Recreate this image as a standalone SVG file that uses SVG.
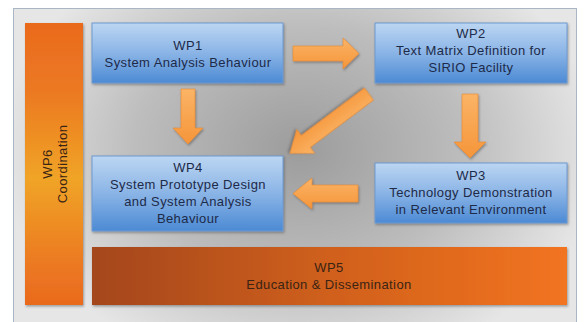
<svg xmlns="http://www.w3.org/2000/svg" width="587" height="322" viewBox="0 0 587 322">
  <defs>
    <radialGradient id="panelBg" cx="300" cy="150" r="300" gradientUnits="userSpaceOnUse" gradientTransform="translate(300 150) scale(1 0.75) translate(-300 -150)">
      <stop offset="0" stop-color="#9c9c9c"/>
      <stop offset="0.55" stop-color="#bdbdbd"/>
      <stop offset="1" stop-color="#e6e6e6"/>
    </radialGradient>
    <linearGradient id="blueFill" x1="0" y1="0" x2="0" y2="1">
      <stop offset="0" stop-color="#bcd6f2"/>
      <stop offset="0.5" stop-color="#8ab4e6"/>
      <stop offset="1" stop-color="#4c8ad4"/>
    </linearGradient>
    <linearGradient id="coordFill" x1="0" y1="0" x2="0" y2="1">
      <stop offset="0" stop-color="#ea6a1e"/>
      <stop offset="0.25" stop-color="#ec7a22"/>
      <stop offset="0.55" stop-color="#f0a426"/>
      <stop offset="0.85" stop-color="#ec7a22"/>
      <stop offset="1" stop-color="#ea6a1e"/>
    </linearGradient>
    <linearGradient id="eduFill" x1="0" y1="0" x2="1" y2="0">
      <stop offset="0" stop-color="#a4461e"/>
      <stop offset="0.5" stop-color="#d0601e"/>
      <stop offset="1" stop-color="#f27420"/>
    </linearGradient>
    <linearGradient id="arrowFill" x1="0" y1="0" x2="0" y2="1">
      <stop offset="0" stop-color="#fbb466"/>
      <stop offset="1" stop-color="#f5953a"/>
    </linearGradient>
    <filter id="shadow" x="-10%" y="-10%" width="120%" height="130%">
      <feDropShadow dx="1" dy="1.5" stdDeviation="1.2" flood-color="#404040" flood-opacity="0.45"/>
    </filter>
  </defs>
  <style>
    .box { fill: url(#blueFill); stroke: #6f9ad0; stroke-width: 1; filter: url(#shadow); }
    .label { font-family: "Liberation Sans", Arial, sans-serif; font-size: 13px; letter-spacing: 0.4px; text-anchor: middle; fill: #1d2a48; }
    .label-dark { font-family: "Liberation Sans", Arial, sans-serif; font-size: 13px; letter-spacing: 0.4px; text-anchor: middle; fill: #3a2414; }
    .arrow { fill: url(#arrowFill); stroke: #e58a30; stroke-width: 0.6; filter: url(#shadow); }
  </style>

  <rect width="587" height="322" fill="#ffffff"/>
  <!-- background panel -->
  <rect x="13.5" y="8.5" width="563" height="330" fill="url(#panelBg)" stroke="#a9b6c4" stroke-width="1"/>

  <g id="wp6">
    <rect x="25" y="23" width="58" height="282" fill="url(#coordFill)" filter="url(#shadow)"/>
    <g transform="translate(54 164) rotate(-90)">
      <text class="label-dark" x="0" y="-2">WP6</text>
      <text class="label-dark" x="0" y="13">Coordination</text>
    </g>
  </g>

  <g id="wp1">
    <rect class="box" x="92" y="23" width="191" height="60"/>
    <text class="label" x="188" y="50">WP1</text>
    <text class="label" x="188" y="67">System Analysis Behaviour</text>
  </g>

  <g id="wp2">
    <rect class="box" x="375" y="23" width="192" height="60"/>
    <text class="label" x="471" y="38">WP2</text>
    <text class="label" x="471" y="55">Text Matrix Definition for</text>
    <text class="label" x="471" y="72">SIRIO Facility</text>
  </g>

  <g id="wp4">
    <rect class="box" x="92" y="156" width="191" height="75"/>
    <text class="label" x="188" y="172">WP4</text>
    <text class="label" x="188" y="189">System Prototype Design</text>
    <text class="label" x="188" y="206">and System Analysis</text>
    <text class="label" x="188" y="223">Behaviour</text>
  </g>

  <g id="wp3">
    <rect class="box" x="375" y="163" width="192" height="60"/>
    <text class="label" x="471" y="180">WP3</text>
    <text class="label" x="471" y="197">Technology Demonstration</text>
    <text class="label" x="471" y="214">in Relevant Environment</text>
  </g>

  <g id="wp5">
    <rect x="92" y="247" width="475" height="58" fill="url(#eduFill)" filter="url(#shadow)"/>
    <text class="label-dark" x="329" y="272">WP5</text>
    <text class="label-dark" x="329" y="289">Education &amp; Dissemination</text>
  </g>

  <g id="connectors">
    <!-- WP1 to WP2 -->
    <polygon class="arrow" points="293,46 343,46 343,38 359,53.5 343,69 343,61 293,61"/>
    <!-- WP1 to WP4 -->
    <polygon class="arrow" points="181,89 195,89 195,128 203,128 188,144 173,128 181,128"/>
    <!-- WP2 to WP3 -->
    <polygon class="arrow" points="462,94 478,94 478,142 486,142 470,158 454,142 462,142"/>
    <!-- WP3 to WP4 -->
    <polygon class="arrow" points="358,185 312,185 312,178 293,193.5 312,209 312,202 358,202"/>
    <!-- WP2 to WP4 -->
    <polygon class="arrow" transform="translate(369 94) rotate(143.13)" points="0,-7.5 79,-7.5 79,-15 99,0 79,15 79,7.5 0,7.5"/>
  </g>
</svg>
